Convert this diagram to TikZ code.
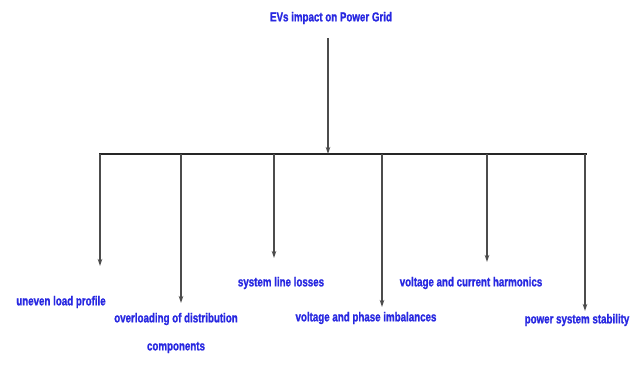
\documentclass[tikz,border=0pt]{standalone}
\usepackage{fontspec}
\setmainfont[FakeStretch=0.75,BoldFeatures={FakeBold=1.2}]{Liberation Sans}
\usetikzlibrary{arrows.meta}
\definecolor{lblblue}{RGB}{40,40,225}
\begin{document}
\begin{tikzpicture}[x=1pt,y=-1pt,
 lbl/.style={text=lblblue, font=\bfseries\fontsize{13}{15}\selectfont, inner sep=0pt, align=center},
 bar/.style={line width=2.8pt, draw=black!85},
 drop/.style={line width=1.4pt, draw=black!70, -{Stealth[length=7pt,width=4.5pt]}}]
\useasboundingbox[fill=white] (0,0) rectangle (642,389);
\node[lbl] (root) at (331,18) {EVs impact on Power Grid};
\coordinate (top) at (328,38);
\coordinate (bl) at (99,154);
\coordinate (br) at (587,154);
\coordinate (bm) at (328,154);
\draw[bar] (bl) -- (br);
\draw[drop] (top) -- (bm);
\coordinate (s1) at (100,154); \coordinate (e1) at (100,266);
\coordinate (s2) at (181,154); \coordinate (e2) at (181,303);
\coordinate (s3) at (274,154); \coordinate (e3) at (274,258);
\coordinate (s4) at (382,154); \coordinate (e4) at (382,307);
\coordinate (s5) at (487,154); \coordinate (e5) at (487,262);
\coordinate (s6) at (585,154); \coordinate (e6) at (585,311);
\foreach \i in {1,...,6} {\draw[drop] (s\i) -- (e\i);}
\node[lbl] (l1) at (61,302) {uneven load profile};
\node[lbl] (l2) at (176,333) {overloading of distribution\\[13pt]components};
\node[lbl] (l3) at (281,283) {system line losses};
\node[lbl] (l4) at (366,318) {voltage and phase imbalances};
\node[lbl] (l5) at (471,283) {voltage and current harmonics};
\node[lbl] (l6) at (577,320) {power system stability};
\end{tikzpicture}
\end{document}
